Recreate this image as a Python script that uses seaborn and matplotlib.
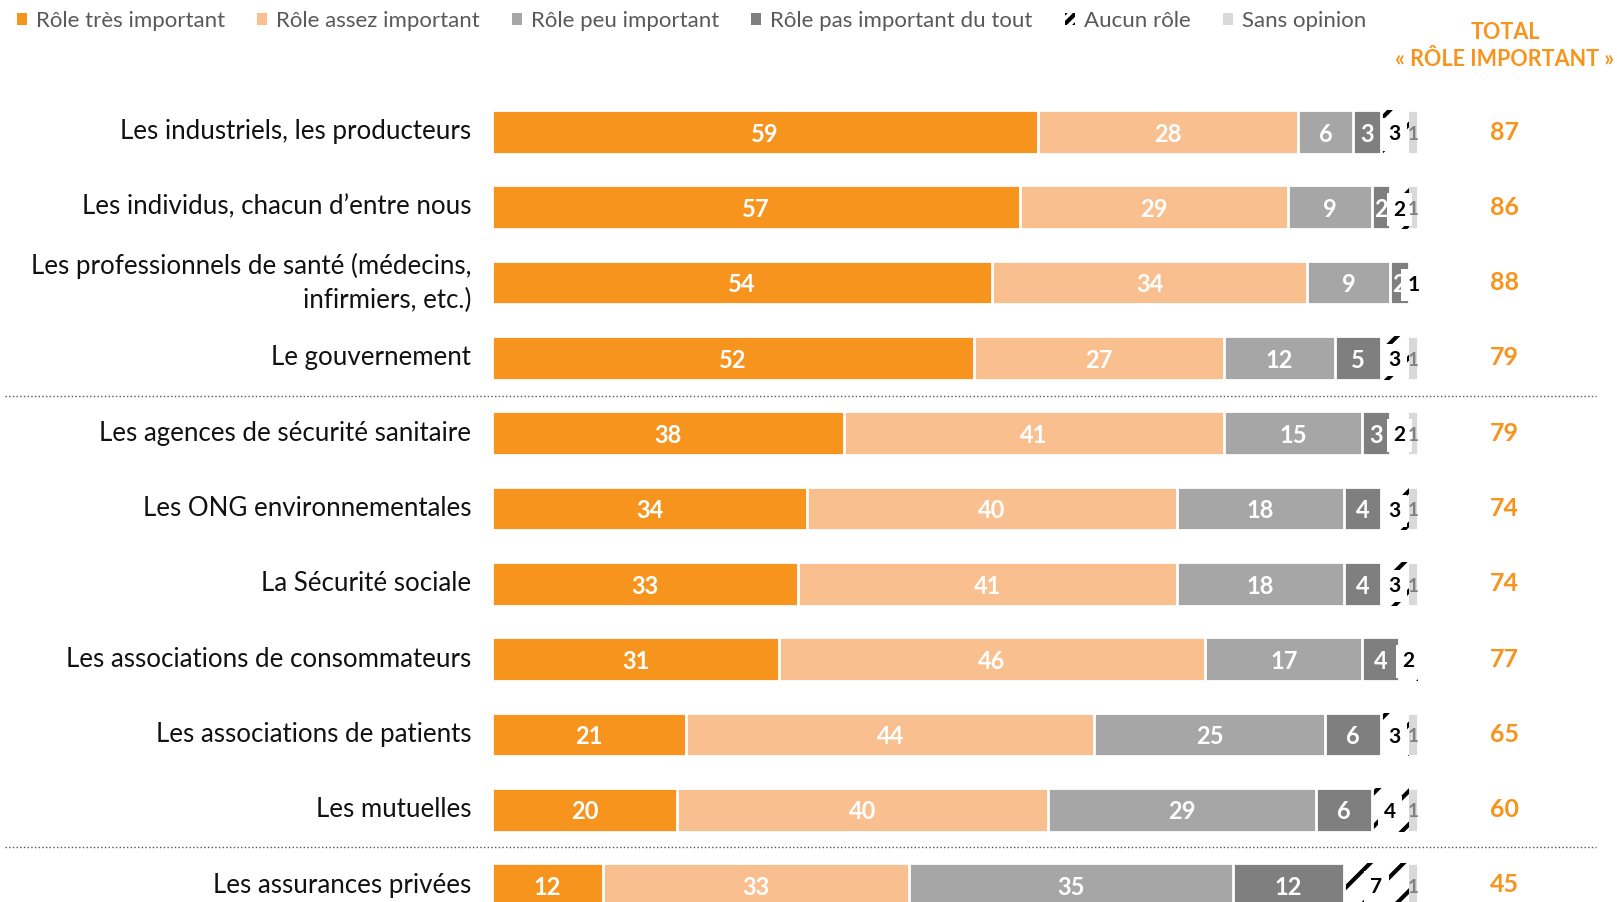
import numpy as np
import pandas as pd
import matplotlib.pyplot as plt
import seaborn as sns
from matplotlib.patches import Patch

# -------------------- DATA --------------------
acteurs = [
    "Les industriels, les producteurs",
    "Les individus, chacun d\u2019entre nous",
    "Les professionnels de santé (médecins,\ninfirmiers, etc.)",
    "Le gouvernement",
    "Les agences de sécurité sanitaire",
    "Les ONG environnementales",
    "La Sécurité sociale",
    "Les associations de consommateurs",
    "Les associations de patients",
    "Les mutuelles",
    "Les assurances privées",
]
tres_important = [59, 57, 54, 52, 38, 34, 33, 31, 21, 20, 12]
assez_important = [28, 29, 34, 27, 41, 40, 41, 46, 44, 40, 33]
peu_important = [6, 9, 9, 12, 15, 18, 18, 17, 25, 29, 35]
pas_du_tout = [3, 2, 2, 5, 3, 4, 4, 4, 6, 6, 12]
aucun_role = [3, 2, 1, 3, 2, 3, 3, 2, 3, 4, 7]
sans_opinion = [1, 1, 0, 1, 1, 1, 1, 0, 1, 1, 1]
total_important = [87, 86, 88, 79, 79, 74, 74, 77, 65, 60, 45]

legend_labels = ["Rôle très important", "Rôle assez important", "Rôle peu important",
                 "Rôle pas important du tout", "Aucun rôle", "Sans opinion"]
colors = ["#F7941D", "#F9BF8F", "#A6A6A6", "#7F7F7F", "#FFFFFF", "#D9D9D9"]

cols = ["tres", "assez", "peu", "pas", "aucun", "sans"]
df = pd.DataFrame({"acteur": acteurs, "tres": tres_important, "assez": assez_important,
                   "peu": peu_important, "pas": pas_du_tout, "aucun": aucun_role,
                   "sans": sans_opinion})
cum = df[cols].cumsum(axis=1)
cum["acteur"] = df["acteur"]

# -------------------- STYLE --------------------
sns.set_style("white")
plt.rcParams["font.family"] = ["Lato", "DejaVu Sans"]
plt.rcParams["hatch.linewidth"] = 3

W, H = 1617, 902
fig = plt.figure(figsize=(W / 100, H / 100), dpi=100)
x0, x1 = 492, 1418
ax = fig.add_axes([x0 / W, 0, (x1 - x0) / W, 1])

# stacked bars drawn as overlapping cumulative bars (last layer first)
for i in reversed(range(len(cols))):
    if cols[i] == "aucun":
        kw = dict(color="white", edgecolor="black", linewidth=0, hatch="/")
    else:
        kw = dict(color=colors[i], edgecolor="white", linewidth=2)
    sns.barplot(data=cum, x=cols[i], y="acteur", orient="h", width=0.58,
                saturation=1, errorbar=None, ax=ax, **kw)

row_px = 75.3
top_px = 132
ax.set_ylim(10 + (H - top_px - 10 * row_px) / row_px, -top_px / row_px)
ax.set_xlim(0, 100)
ax.set_xlabel("")
ax.set_ylabel("")
ax.set_xticks([])
sns.despine(ax=ax, left=True, bottom=True)
ax.tick_params(axis="y", length=0, pad=15, labelsize=18.6, labelcolor="#111111")
for lab in ax.get_yticklabels():
    lab.set_linespacing(1.45)
    lab.set_verticalalignment("center")

# segment labels
for r in range(len(acteurs)):
    for i, c in enumerate(cols):
        v = df.loc[r, c]
        if v == 0:
            continue
        xc = cum.loc[r, c] - v / 2
        if c == "aucun":
            ax.text(xc, r + 0.03, str(v), ha="center", va="center", fontsize=15,
                    fontweight="bold", color="black", clip_on=False,
                    bbox=dict(boxstyle="square,pad=0.3", fc="white", ec="none"))
        elif c == "sans":
            ax.text(xc, r + 0.03, str(v), ha="center", va="center", fontsize=13.5,
                    fontweight="bold", color="#808080", clip_on=False)
        else:
            ax.text(xc, r + 0.03, str(v), ha="center", va="center", fontsize=17,
                    fontweight="bold", color="white", clip_on=False)
    ax.text(109.3, r, str(total_important[r]), ha="center", va="center", fontsize=18,
            fontweight="bold", color="#F7941D", clip_on=False)

fig.text(1505 / W, 1 - 46 / H, "TOTAL\n\u00ab R\u00d4LE IMPORTANT \u00bb", ha="center", va="center",
         fontsize=15.5, fontweight="bold", color="#F7941D", linespacing=1.4)

# dotted separators
for y in [3.5, 9.5]:
    ax.plot([-52.6, 119.2], [y, y], ls=":", lw=1, color="#555555", clip_on=False)

handles = []
for i in range(len(cols)):
    if cols[i] == "aucun":
        handles.append(Patch(facecolor="white", edgecolor="black", linewidth=0, hatch="///"))
    else:
        handles.append(Patch(facecolor=colors[i], edgecolor="none"))
fig.legend(handles, legend_labels, loc="center left", bbox_to_anchor=(-3 / W, 1 - 21 / H),
           ncol=6, frameon=False, fontsize=16, handlelength=0.45, handleheight=0.45,
           handletextpad=0.4, columnspacing=1.45, labelcolor="#595959")

fig.savefig("out.png", dpi=100)
